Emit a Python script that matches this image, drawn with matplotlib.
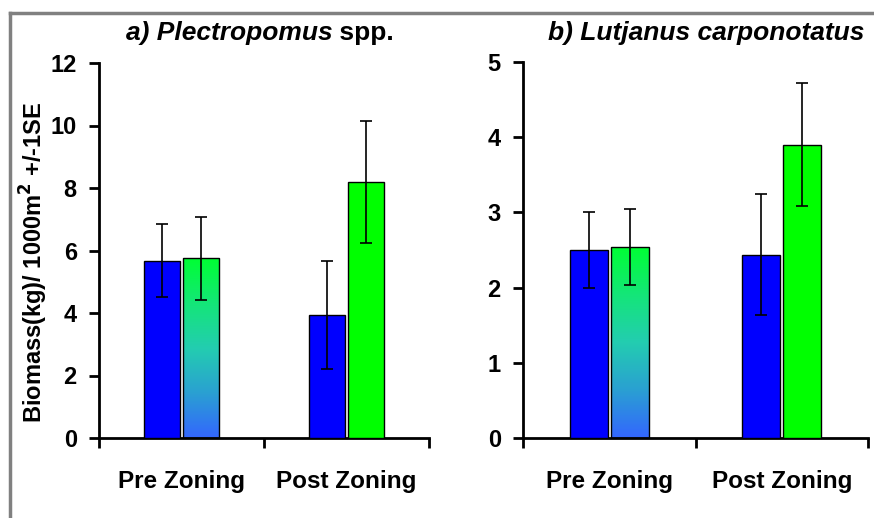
import matplotlib
matplotlib.use("Agg")
import matplotlib.pyplot as plt
import numpy as np
from matplotlib.colors import LinearSegmentedColormap
from matplotlib.lines import Line2D

# ---------------- data ----------------
categories = ["Pre Zoning", "Post Zoning"]

plectro_blue = [5.67, 3.94]
plectro_blue_se = [1.17, 1.72]
plectro_green = [5.75, 8.19]
plectro_green_se = [1.33, 1.96]

lutj_blue = [2.50, 2.44]
lutj_blue_se = [0.50, 0.81]
lutj_green = [2.54, 3.90]
lutj_green_se = [0.50, 0.82]

# ---------------- style ----------------
W, H = 874, 518
DPI = 100
plt.rcParams['font.family'] = ['Liberation Sans', 'DejaVu Sans']
plt.rcParams['font.weight'] = 'bold'

fig = plt.figure(figsize=(W / DPI, H / DPI), dpi=DPI)
fig.patch.set_facecolor('white')

grad_cmap = LinearSegmentedColormap.from_list(
    "grad", [(0.0, "#3366FF"), (0.25, "#2AA0D2"), (0.5, "#23CDB0"),
             (0.75, "#14E678"), (1.0, "#00FF33")])

BLUE = "#0000FF"
GREEN = "#00FF00"
bw = 0.22
off = 0.12


def panel(rect, blue, blue_se, green, green_se, ymax, yticks):
    ax = fig.add_axes(rect)
    x = np.arange(len(categories)) + 0.5
    xb = x - off
    xg = x + off
    ax.bar(xb, blue, width=bw, color=BLUE, edgecolor='black', linewidth=1.0, zorder=3)
    bars = ax.bar(xg, green, width=bw, color=GREEN, edgecolor='black', linewidth=1.0, zorder=3)
    # gradient fill for the first (Pre Zoning) green bar
    b0 = bars[0]
    b0.set_facecolor('none')
    grad = np.linspace(0, 1, 256).reshape(-1, 1)
    im = ax.imshow(grad, cmap=grad_cmap, origin='lower', aspect='auto',
                   extent=[b0.get_x(), b0.get_x() + b0.get_width(), 0, b0.get_height()],
                   zorder=2.5, interpolation='bilinear')
    im.set_clip_path(b0)
    ax.errorbar(xb, blue, yerr=blue_se, fmt='none', ecolor='black',
                elinewidth=1.2, capsize=4.5, capthick=1.2, zorder=4)
    ax.errorbar(xg, green, yerr=green_se, fmt='none', ecolor='black',
                elinewidth=1.2, capsize=4.5, capthick=1.2, zorder=4)
    ax.set_xlim(0, len(categories))
    ax.set_ylim(0, ymax)
    ax.set_yticks(yticks)
    ax.set_yticklabels([str(t) for t in yticks], fontsize=17, fontweight='bold')
    ax.set_xticks([0, 1, 2])
    ax.set_xticklabels([])
    ax.set_xticks(x, minor=True)
    ax.set_xticklabels(categories, minor=True, fontsize=17.5, fontweight='bold')
    ax.tick_params(axis='x', which='minor', length=0, pad=23)
    ax.tick_params(axis='x', which='major', length=7, width=2, direction='out')
    ax.tick_params(axis='y', length=7, width=2, direction='out', pad=9)
    for s in ['top', 'right']:
        ax.spines[s].set_visible(False)
    for s in ['left', 'bottom']:
        ax.spines[s].set_linewidth(2)
    ax.set_autoscale_on(False)
    return ax


def fy(py):
    return 1 - py / H


ax1 = panel([99 / W, fy(438), 330 / W, (438 - 63) / H],
            plectro_blue, plectro_blue_se, plectro_green, plectro_green_se,
            12, [0, 2, 4, 6, 8, 10, 12])
ax2 = panel([523 / W, fy(438), 345 / W, (438 - 62) / H],
            lutj_blue, lutj_blue_se, lutj_green, lutj_green_se,
            5, [0, 1, 2, 3, 4, 5])

ax1.set_ylabel(r"Biomass(kg)/ 1000m$^\mathbf{2}$ +/-1SE", fontsize=17, fontweight='bold')
ax1.yaxis.set_label_coords(50 / W, fy(262), transform=fig.transFigure)

# ---------------- titles (mixed italic / upright) ----------------
fig.canvas.draw()
renderer = fig.canvas.get_renderer()


def mixed_title(parts, cx_px, base_py, size=19):
    texts = []
    widths = []
    for s, st in parts:
        t = fig.text(0, 0, s, fontsize=size, fontweight='bold', fontstyle=st,
                     va='baseline', ha='left')
        bb = t.get_window_extent(renderer)
        texts.append(t)
        widths.append(bb.width)
    total = sum(widths)
    x = cx_px - total / 2
    for t, w in zip(texts, widths):
        t.set_position((x / W, fy(base_py)))
        x += w


mixed_title([("a) Plectropomus", 'italic'), (" spp.", 'normal')], 260, 40)
mixed_title([("b) Lutjanus carponotatus", 'italic')], 706, 40)

# ---------------- outer gray frame ----------------
fig.add_artist(Line2D([10 / W, 10 / W], [0, fy(13)], color='#808080', lw=2.5,
                      transform=fig.transFigure))
fig.add_artist(Line2D([10 / W, 1], [fy(13), fy(13)], color='#808080', lw=2.5,
                      transform=fig.transFigure))

fig.savefig("out.png", dpi=DPI, facecolor='white')
